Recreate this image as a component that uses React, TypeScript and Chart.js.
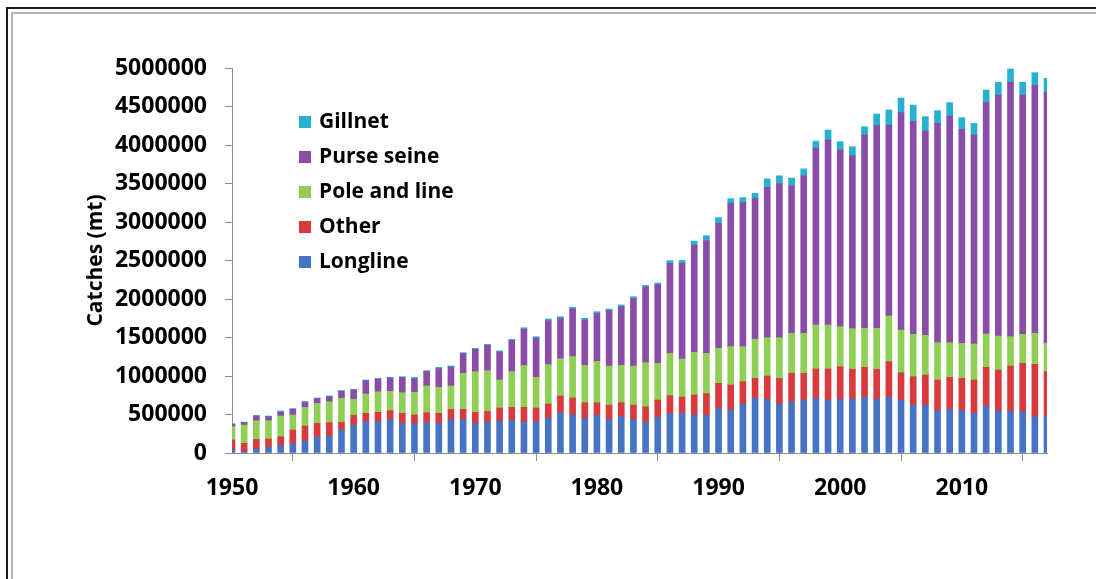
import React, { useEffect, useRef } from "react";
import { Chart, registerables } from "chart.js";

Chart.register(...registerables);

const FIRST_YEAR = 1950;
const LAST_YEAR = 2017;
const years: number[] = [];
for (let y = FIRST_YEAR; y <= LAST_YEAR; y++) years.push(y);

// values in thousand tonnes
const longlineK = [39,17,56,74,95,117,160,203,221,299,364,407,407,437,385,377,394,385,437,437,385,398,416,429,407,407,450,524,494,450,489,437,472,437,398,463,515,515,494,489,580,558,632,710,697,636,667,688,710,688,697,701,723,697,723,688,623,623,550,567,550,515,602,550,545,537,472,472];
const otherK = [130,108,121,108,117,182,190,182,173,100,126,108,121,113,130,117,130,130,130,130,143,143,169,164,186,177,186,216,221,203,164,186,182,186,203,225,229,212,260,281,325,325,294,260,303,333,368,346,381,403,424,386,390,390,463,355,368,390,398,416,420,433,511,528,585,628,680,584];
const poleAndLineK = [173,238,242,238,268,195,242,260,273,312,208,251,268,251,268,294,346,338,303,468,528,528,364,463,545,398,511,485,537,485,537,506,485,506,571,476,550,494,554,524,455,498,455,506,498,528,519,519,571,571,520,528,506,532,593,554,550,515,485,450,454,468,432,441,381,376,402,368];
const purseSeineK = [30,30,61,52,52,74,65,61,65,91,121,173,164,173,199,173,190,242,247,255,290,329,364,407,472,511,571,524,619,589,623,723,762,879,983,1022,1169,1242,1390,1463,1623,1861,1870,1827,1952,2003,1916,2047,2298,2403,2294,2246,2511,2632,2481,2823,2762,2654,2848,2944,2779,2714,3005,3130,3303,3108,3225,3260];
const gillnetK = [10,8,8,8,13,9,13,9,9,9,9,9,9,9,9,22,9,17,13,13,13,13,13,13,17,17,22,22,22,22,22,17,22,22,22,22,35,39,52,65,74,61,65,69,110,100,100,90,90,130,108,117,108,152,195,190,216,186,165,173,152,151,164,165,173,165,160,182];

const yTicksMax = 5000000;
const yTickStep = 500000;
const xTickStep = 10;

const FONT = "'Open Sans', sans-serif";

const series = [
  { label: "Longline", values: longlineK, color: "#4673C4" },
  { label: "Other", values: otherK, color: "#D93A3D" },
  { label: "Pole and line", values: poleAndLineK, color: "#90CF55" },
  { label: "Purse seine", values: purseSeineK, color: "#8A4DA7" },
  { label: "Gillnet", values: gillnetK, color: "#27B1CF" },
];

const insideLegend = {
  id: "insideLegend",
  afterDraw(chart: any) {
    const ctx = chart.ctx as CanvasRenderingContext2D;
    const { left, top } = chart.chartArea;
    const ds = [...chart.data.datasets].reverse();
    ctx.save();
    ctx.font = `bold 21px ${FONT}`;
    ctx.textBaseline = "middle";
    ctx.textAlign = "left";
    ds.forEach((d: any, k: number) => {
      const cy = top + 54 + k * 35;
      ctx.fillStyle = d.backgroundColor;
      ctx.fillRect(left + 67, cy - 6, 12, 12);
      ctx.fillStyle = "#000";
      ctx.fillText(d.label, left + 87, cy);
    });
    ctx.restore();
  },
};

export default function App() {
  const ref = useRef<HTMLCanvasElement | null>(null);

  useEffect(() => {
    if (!ref.current) return;
    const chart = new Chart(ref.current, {
      type: "bar",
      data: {
        datasets: series.map((s) => ({
          label: s.label,
          data: years.map((yr, i) => ({ x: yr, y: s.values[i] * 1000 })),
          backgroundColor: s.color,
          borderWidth: 0,
          barThickness: 6,
        })),
      },
      options: {
        responsive: false,
        animation: false,
        layout: { padding: { left: 0, right: 49, top: 68, bottom: 0 } },
        plugins: {
          legend: { display: false },
          tooltip: { enabled: false },
        },
        scales: {
          x: {
            type: "linear",
            stacked: true,
            min: FIRST_YEAR,
            max: LAST_YEAR,
            offset: false,
            afterBuildTicks: (s: any) => {
              s.ticks = s.ticks.filter((t: any) => t.value % xTickStep === 0);
            },
            afterFit: (s: any) => {
              s.height = 126;
            },
            ticks: {
              stepSize: xTickStep,
              autoSkip: false,
              maxRotation: 0,
              padding: 14,
              color: "#000",
              font: { family: FONT, size: 23, weight: "bold" },
              callback: (v: any) => String(v),
            },
            grid: {
              drawOnChartArea: false,
              drawTicks: true,
              tickLength: 8,
              tickColor: "#8c8c8c",
            },
            border: { display: true, color: "#8c8c8c", width: 1 },
          },
          y: {
            stacked: true,
            min: 0,
            max: yTicksMax,
            afterFit: (s: any) => {
              s.width = 232;
            },
            ticks: {
              stepSize: yTickStep,
              padding: 18,
              color: "#000",
              font: { family: FONT, size: 23, weight: "bold" },
              callback: (v: any) => String(v),
            },
            grid: {
              drawOnChartArea: false,
              drawTicks: true,
              tickLength: 7,
              tickColor: "#8c8c8c",
            },
            border: { display: true, color: "#8c8c8c", width: 1 },
            title: {
              display: true,
              text: "Catches (mt)",
              color: "#000",
              font: { family: FONT, size: 21, weight: "bold" },
              padding: { top: 83, bottom: 0 },
            },
          },
        },
      } as any,
      plugins: [insideLegend],
    });
    return () => chart.destroy();
  }, []);

  return (
    <div
      style={{
        position: "absolute",
        left: 0,
        top: 0,
        width: 1096,
        height: 579,
        overflow: "hidden",
        background: "#fff",
      }}
    >
      <div
        style={{
          position: "absolute",
          left: 6,
          top: 7,
          width: 1200,
          height: 700,
          borderTop: "2px solid #1a1a1a",
          borderLeft: "2px solid #1a1a1a",
        }}
      />
      <div
        style={{
          position: "absolute",
          left: 11,
          top: 12,
          width: 1200,
          height: 700,
          borderTop: "2px solid #b4b4b4",
          borderLeft: "2px solid #b4b4b4",
        }}
      />
      <canvas
        ref={ref}
        width={1096}
        height={579}
        style={{ position: "absolute", left: 0, top: 0, display: "block" }}
      />
    </div>
  );
}
